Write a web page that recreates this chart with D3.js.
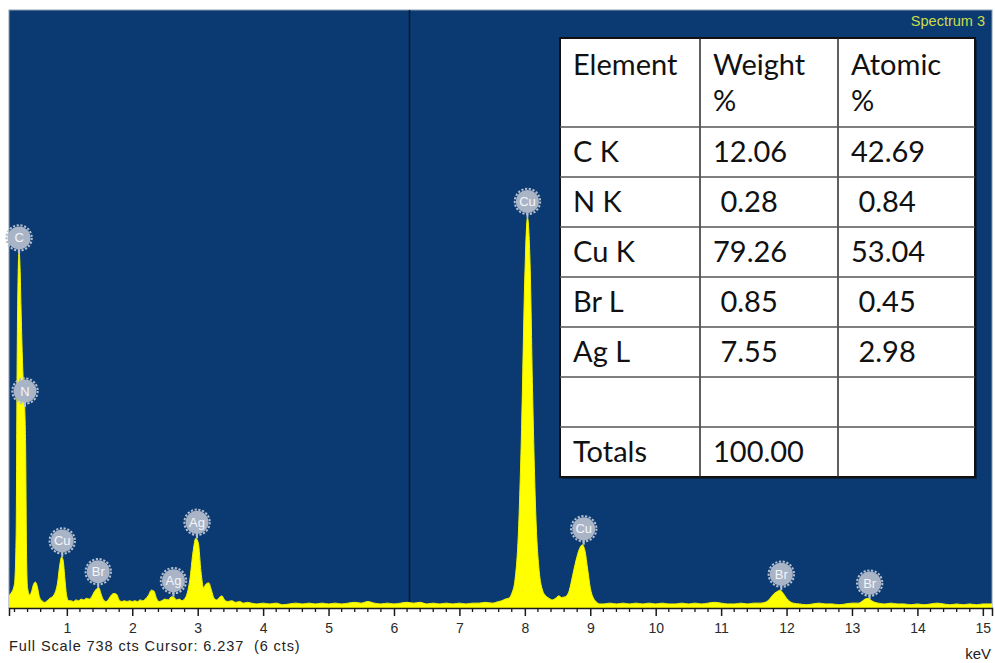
<!DOCTYPE html>
<html>
<head>
<meta charset="utf-8">
<script src="https://cdn.jsdelivr.net/npm/d3@7"></script>
<style>
  html, body { margin: 0; padding: 0; background: #ffffff; }
  svg { display: block; }
  text { white-space: pre; }
</style>
</head>
<body>
<svg id="chart" width="995" height="663"></svg>
<script>
// ---------------- DATA ----------------
// EDS spectrum: [energy keV, counts]
const spectrumPoints = [
  [0.12, 16],[0.16, 20],[0.20, 30],[0.225, 90],[0.24, 300],[0.255, 410],[0.27, 440],[0.285, 420],
  [0.30, 370],[0.32, 310],[0.34, 270],[0.355, 250],[0.37, 200],[0.385, 60],[0.40, 25],[0.43, 16],
  [0.46, 20],[0.49, 29],[0.52, 32],[0.55, 26],[0.58, 14],[0.62, 9],[0.66, 7],[0.70, 9],[0.74, 12],
  [0.78, 14],[0.82, 19],[0.86, 32],[0.89, 52],[0.92, 63],[0.945, 58],[0.97, 36],[1.00, 14],[1.03, 9],
  [1.06, 9],[1.10, 8],[1.14, 10],[1.18, 9],[1.22, 11],[1.26, 10],[1.30, 12],[1.34, 11],[1.38, 14],
  [1.42, 20],[1.46, 24],[1.49, 25],[1.52, 18],[1.56, 10],[1.60, 8],[1.64, 11],[1.68, 16],[1.72, 18],
  [1.76, 17],[1.80, 10],[1.84, 8],[1.88, 9],[1.92, 8],[1.96, 9],[2.00, 8],[2.04, 9],[2.08, 8],
  [2.12, 10],[2.16, 9],[2.20, 11],[2.25, 16],[2.29, 22],[2.33, 21],[2.37, 12],[2.41, 8],[2.45, 9],
  [2.50, 11],[2.55, 10],[2.60, 14],[2.64, 13],[2.68, 10],[2.72, 11],[2.76, 9],[2.82, 14],[2.88, 35],
  [2.93, 70],[2.97, 86],[3.01, 80],[3.05, 45],[3.09, 25],[3.13, 30],[3.17, 31],[3.21, 22],[3.25, 12],
  [3.29, 10],[3.33, 13],[3.37, 15],[3.41, 10],[3.46, 8],[3.52, 9],[3.58, 7],[3.64, 8],[3.70, 6],
  [3.76, 7],[3.82, 6],[3.90, 5],
  [4.0, 6],[4.1, 5],[4.2, 6],[4.3, 4],[4.4, 5],[4.5, 6],[4.6, 5],[4.7, 6],[4.8, 5],[4.9, 6],
  [5.0, 5],[5.1, 6],[5.2, 5],[5.3, 6],[5.4, 7],[5.5, 6],[5.6, 8],[5.7, 6],[5.8, 5],[5.9, 6],
  [6.0, 5],[6.1, 6],[6.2, 7],[6.3, 6],[6.4, 7],[6.5, 5],[6.6, 6],[6.7, 5],[6.8, 6],[6.9, 5],
  [7.0, 6],[7.1, 5],[7.2, 6],[7.3, 6],[7.4, 7],[7.5, 6],[7.6, 8],[7.65, 9],[7.70, 11],
  [7.75, 12],[7.80, 18],[7.85, 35],[7.90, 90],[7.95, 220],[8.00, 410],[8.04, 482],[8.08, 425],
  [8.12, 260],[8.17, 110],[8.22, 45],[8.27, 22],[8.32, 15],[8.37, 12],[8.42, 10],[8.47, 12],
  [8.52, 15],[8.56, 13],[8.62, 14],[8.68, 22],[8.73, 40],[8.78, 58],[8.83, 72],[8.88, 78],
  [8.92, 70],[8.96, 48],[9.00, 25],[9.05, 12],[9.10, 7],[9.15, 5],
  [9.2, 5],[9.3, 6],[9.4, 5],[9.5, 6],[9.6, 5],[9.7, 6],[9.8, 5],[9.9, 6],[10.0, 5],[10.1, 6],
  [10.2, 5],[10.3, 5],[10.4, 6],[10.5, 5],[10.6, 6],[10.7, 5],[10.8, 6],[10.9, 7],[11.0, 6],
  [11.1, 5],[11.2, 5],[11.3, 6],[11.4, 5],[11.5, 6],[11.6, 6],[11.7, 8],[11.75, 12],[11.8, 17],
  [11.85, 20],[11.9, 22],[11.95, 18],[12.0, 12],[12.05, 8],[12.1, 6],[12.2, 5],[12.3, 4],[12.4, 5],
  [12.5, 6],[12.6, 5],[12.7, 5],[12.8, 4],[12.9, 5],[13.0, 6],[13.1, 6],[13.15, 8],[13.2, 11],
  [13.25, 12],[13.3, 9],[13.35, 7],[13.4, 6],[13.5, 5],[13.6, 6],[13.7, 5],[13.8, 5],[13.9, 4],
  [14.0, 5],[14.1, 4],[14.2, 5],[14.3, 6],[14.4, 5],[14.5, 4],[14.6, 5],[14.7, 4],[14.8, 5],
  [14.9, 4],[15.0, 5],[15.14, 5]
];

// Peak identification labels: element, energy (keV), counts at pin tip
const peakElements = ["C", "N", "Cu", "Br", "Ag", "Ag", "Cu", "Cu", "Br", "Br"];
const peakEnergies = [0.27, 0.36, 0.93, 1.48, 2.63, 2.99, 8.04, 8.90, 11.92, 13.27];
const peakTips     = [437, 248, 63, 25, 14, 86, 482, 78, 22, 11];

// Axis
const energyDomain = [0.116, 15.14];
const fullScale = 738;
const cursorKeV = 6.237;
const majorTicks = [1,2,3,4,5,6,7,8,9,10,11,12,13,14,15];
const minorStep = 0.2;

// Texts
const spectrumTitle = "Spectrum 3";
const footerText = "Full Scale 738 cts Cursor: 6.237  (6 cts)";
const unitText = "keV";

// Quantification table
const tableHeaders = [["Element"], ["Weight", "%"], ["Atomic", "%"]];
const tableElements = ["C K", "N K", "Cu K", "Br L", "Ag L", "", "Totals"];
const tableWeight   = ["12.06", " 0.28", "79.26", " 0.85", " 7.55", "", "100.00"];
const tableAtomic   = ["42.69", " 0.84", "53.04", " 0.45", " 2.98", "", ""];

// ---------------- DRAW ----------------
const svg = d3.select("#chart");
const plot = { left: 9, right: 992, top: 10, bottom: 608 };

const x = d3.scaleLinear().domain(energyDomain).range([plot.left, plot.right]);
const y = d3.scaleLinear().domain([0, fullScale]).range([plot.bottom, plot.top]);

svg.append("rect").attr("width", 995).attr("height", 663).attr("fill", "#ffffff");

// blue plot background
svg.append("rect")
  .attr("x", plot.left).attr("y", plot.top)
  .attr("width", plot.right - plot.left).attr("height", plot.bottom - plot.top)
  .attr("fill", "#0b3a72")
  .attr("stroke", "#8c9cb4").attr("stroke-width", 1);

svg.append("defs").append("clipPath").attr("id", "plotclip")
  .append("rect")
  .attr("x", plot.left).attr("y", plot.top)
  .attr("width", plot.right - plot.left).attr("height", plot.bottom - plot.top);

// cursor line
svg.append("line")
  .attr("x1", x(cursorKeV)).attr("x2", x(cursorKeV))
  .attr("y1", plot.top).attr("y2", plot.bottom)
  .attr("stroke", "#06172e").attr("stroke-width", 1.5);

// spectrum
const area = d3.area()
  .x(d => x(d[0]))
  .y0(y(0))
  .y1(d => y(d[1]))
  .curve(d3.curveMonotoneX);

svg.append("path")
  .datum(spectrumPoints)
  .attr("clip-path", "url(#plotclip)")
  .attr("d", area)
  .attr("fill", "#ffff00")
  .attr("stroke", "#f4f400")
  .attr("stroke-width", 1);

// title
svg.append("text")
  .attr("x", 985).attr("y", 26)
  .attr("text-anchor", "end")
  .attr("font-family", "Liberation Sans, Arial, sans-serif")
  .attr("font-size", 14.5)
  .attr("fill", "#cbdc4c")
  .text(spectrumTitle);

// peak labels
const labelOffset = 16, labelR = 11.5;
const labels = svg.append("g");
peakElements.forEach((el, i) => {
  const cx = x(peakEnergies[i]);
  const tipY = y(peakTips[i]);
  const cy = tipY - labelOffset;
  const g = labels.append("g");
  g.append("line")
    .attr("x1", cx).attr("x2", cx)
    .attr("y1", cy + labelR - 1).attr("y2", tipY)
    .attr("stroke", "#b9c3d2").attr("stroke-width", 2);
  g.append("circle")
    .attr("cx", cx).attr("cy", cy).attr("r", labelR + 1.2)
    .attr("fill", "none")
    .attr("stroke", "#b4bfce").attr("stroke-width", 2)
    .attr("stroke-dasharray", "2.2,1.6");
  g.append("circle")
    .attr("cx", cx).attr("cy", cy).attr("r", labelR)
    .attr("fill", "#a9b4c6");
  g.append("text")
    .attr("x", cx).attr("y", cy + 4.5)
    .attr("text-anchor", "middle")
    .attr("font-family", "Liberation Sans, Arial, sans-serif")
    .attr("font-size", 13)
    .attr("fill", "#f4f6fa")
    .text(el);
});

// x axis
const axis = d3.axisBottom(x)
  .tickValues(majorTicks)
  .tickSize(8)
  .tickPadding(7)
  .tickFormat(d3.format("d"));

const axisG = svg.append("g")
  .attr("transform", `translate(0,${plot.bottom})`)
  .call(axis);
axisG.select(".domain").attr("stroke", "#1a1a1a").attr("stroke-width", 1.5);
axisG.selectAll(".tick line").attr("stroke", "#1a1a1a").attr("stroke-width", 1.5);
axisG.selectAll(".tick text")
  .attr("font-family", "Liberation Sans, Arial, sans-serif")
  .attr("font-size", 14)
  .attr("fill", "#2a2a2a");

const minorTicks = d3.range(minorStep, energyDomain[1], minorStep)
  .filter(v => Math.abs(v - Math.round(v)) > 1e-6);
axisG.selectAll(".minor")
  .data(minorTicks)
  .enter().append("line")
  .attr("class", "minor")
  .attr("x1", d => x(d)).attr("x2", d => x(d))
  .attr("y1", 0).attr("y2", 4)
  .attr("stroke", "#1a1a1a").attr("stroke-width", 1.3);

// footer
svg.append("text")
  .attr("x", 9).attr("y", 651)
  .attr("xml:space", "preserve")
  .attr("font-family", "Liberation Sans, Arial, sans-serif")
  .attr("font-size", 14.5)
  .attr("letter-spacing", 0.9)
  .attr("fill", "#222")
  .text(footerText);

svg.append("text")
  .attr("x", 991).attr("y", 659)
  .attr("text-anchor", "end")
  .attr("font-family", "Liberation Sans, Arial, sans-serif")
  .attr("font-size", 15)
  .attr("fill", "#222")
  .text(unitText);

// table
const tbl = { x: 560, y: 38, w: 415, headerH: 89, rowH: 50 };
const colX = [560, 700, 838, 975];
const textX = [573, 713, 851];
const nRows = tableElements.length;
const tblH = tbl.headerH + nRows * tbl.rowH;
const tg = svg.append("g");

tg.append("rect")
  .attr("x", tbl.x + 2).attr("y", tbl.y + 2)
  .attr("width", tbl.w).attr("height", tblH)
  .attr("fill", "#05152b").attr("opacity", 0.6);
tg.append("rect")
  .attr("x", tbl.x).attr("y", tbl.y)
  .attr("width", tbl.w).attr("height", tblH)
  .attr("fill", "#ffffff")
  .attr("stroke", "#111").attr("stroke-width", 2);

// grid lines
[colX[1], colX[2]].forEach(cx => {
  tg.append("line").attr("x1", cx).attr("x2", cx)
    .attr("y1", tbl.y).attr("y2", tbl.y + tblH)
    .attr("stroke", "#2a2a2a").attr("stroke-width", 1.5);
});
d3.range(nRows).forEach(r => {
  const ly = tbl.y + tbl.headerH + r * tbl.rowH;
  tg.append("line").attr("x1", tbl.x).attr("x2", tbl.x + tbl.w)
    .attr("y1", ly).attr("y2", ly)
    .attr("stroke", "#555").attr("stroke-width", 1.3);
});

const tfont = "Lato, 'Open Sans', sans-serif";
tableHeaders.forEach((lines, c) => {
  lines.forEach((t, li) => {
    tg.append("text")
      .attr("x", textX[c]).attr("y", tbl.y + 37 + li * 36)
      .attr("font-family", tfont).attr("font-size", 29)
      .attr("fill", "#111")
      .text(t);
  });
});
const cols = [tableElements, tableWeight, tableAtomic];
cols.forEach((col, c) => {
  col.forEach((t, r) => {
    tg.append("text")
      .attr("x", textX[c])
      .attr("y", tbl.y + tbl.headerH + r * tbl.rowH + 35)
      .attr("xml:space", "preserve")
      .attr("font-family", tfont).attr("font-size", 29)
      .attr("fill", "#111")
      .text(t);
  });
});
</script>
</body>
</html>
